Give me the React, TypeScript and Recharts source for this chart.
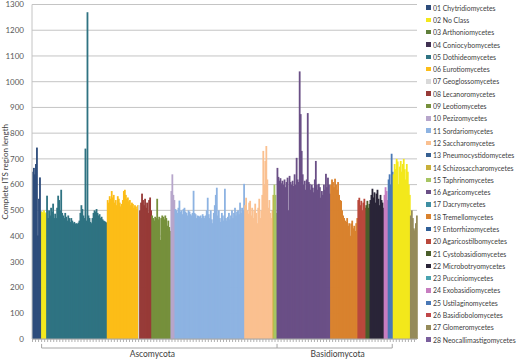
import {
  BarChart,
  Bar,
  Cell,
  XAxis,
  YAxis,
  CartesianGrid,
  ReferenceLine,
} from 'recharts';

const classNames = [
  '01 Chytridiomycetes',
  '02 No Class',
  '03 Arthoniomycetes',
  '04 Coniocybomycetes',
  '05 Dothideomycetes',
  '06 Eurotiomycetes',
  '07 Geoglossomycetes',
  '08 Lecanoromycetes',
  '09 Leotiomycetes',
  '10 Pezizomycetes',
  '11 Sordariomycetes',
  '12 Saccharomycetes',
  '13 Pneumocystidomycetes',
  '14 Schizosaccharomycetes',
  '15 Taphrinomycetes',
  '16 Agaricomycetes',
  '17 Dacrymycetes',
  '18 Tremellomycetes',
  '19 Entorrhizomycetes',
  '20 Agaricostilbomycetes',
  '21 Cystobasidiomycetes',
  '22 Microbotryomycetes',
  '23 Pucciniomycetes',
  '24 Exobasidiomycetes',
  '25 Ustilaginomycetes',
  '26 Basidiobolomycetes',
  '27 Glomeromycetes',
  '28 Neocallimastigomycetes',
];

const classColors = [
  '#2d4c7b', '#f3e81c', '#5f7f3a', '#403152', '#2f7382', '#fcbd18', '#d9d9d9',
  '#973a37', '#76903c', '#b7a6cb', '#8db3e2', '#fac090', '#376092', '#c8b03a',
  '#a7c563', '#6a4f86', '#3f8fa3', '#d9822e', '#2f5f97', '#b9483c', '#4a5e2a',
  '#2a2538', '#4aa3b0', '#c77dc0', '#4a78b5', '#c0474a', '#958b5a', '#7a5f9d',
];

// sequence lengths, read left to right across the chart
const chytridiomycetes = [650, 665, 640, 680, 744, 402, 545, 628, 495];
const noClassLeft = [495, 490, 500, 488, 492];
const dothideomycetes = [
  557, 470, 500, 480, 510, 495, 526, 470, 487, 470, 510, 557, 540, 500, 580,
  490, 480, 470, 490, 475, 460, 480, 470, 455, 470, 460, 450, 455, 448, 450,
  447, 452, 460, 490, 520, 505, 480, 470, 740, 460, 1270, 480, 470, 455, 450,
  470, 490, 500, 495, 505, 490, 480, 485, 470, 475, 465, 460, 458, 455, 452,
];
const eurotiomycetes = [
  540, 530, 555, 545, 575, 550, 560, 530, 540, 520, 555, 545, 530, 515, 525,
  540, 575, 580, 560, 545, 550, 535, 540, 520, 530, 525, 510, 520, 515, 505, 520,
];
const geoglossomycetes = [520];
const lecanoromycetes = [500, 530, 565, 540, 520, 545, 510, 530, 490, 540, 550, 500];
const leotiomycetes = [
  480, 470, 460, 475, 470, 545, 465, 475, 385, 470, 480, 475, 465, 480, 470,
  440, 460, 435, 420,
];
const pezizomycetes = [575, 640, 560, 540];
const sordariomycetes = [
  505, 500, 490, 510, 538, 495, 500, 485, 505, 510, 495, 490, 480, 500, 495,
  485, 480, 490, 576, 490, 485, 470, 480, 478, 475, 480, 470, 485, 478, 470,
  480, 500, 549, 485, 470, 500, 465, 450, 490, 520, 560, 588, 480, 500, 470,
  455, 490, 480, 460, 584, 470, 460, 475, 490, 465, 480, 500, 470, 490, 510,
  480, 495, 500, 485, 530, 490, 510, 500, 603,
];
const saccharomycetes = [
  520, 549, 500, 487, 530, 537, 480, 510, 470, 500, 526, 490, 450, 510, 545,
  470, 500, 560, 731, 600, 692, 750, 620, 510, 540, 490, 470, 500,
];
const schizosaccharomycetes = [560];
const taphrinomycetes = [600, 560, 490];
const agaricomycetes = [
  665, 630, 615, 625, 605, 615, 600, 620, 590, 610, 627, 500, 634, 610, 600,
  615, 595, 640, 600, 704, 620, 610, 1040, 874, 731, 640, 600, 615, 580, 620,
  878, 610, 603, 580, 600, 588, 570, 620, 692, 600, 580, 603, 590, 549, 575,
  560, 600, 580, 642, 590, 627, 600, 565,
];
const tremellomycetes = [
  600, 620, 610, 590, 623, 600, 580, 610, 560, 540, 537, 500, 480, 470, 460,
  455, 470, 440, 450, 400, 449, 460, 430, 440, 420, 450, 470,
];
const agaricostilbomycetes = [540, 549, 520, 537, 500, 530, 545, 510];
const cystobasidiomycetes = [520, 537, 510, 525];
const microbotryomycetes = [540, 560, 584, 550, 570, 530, 565, 580, 545, 520, 560, 540, 530, 510];
const exobasidiomycetes = [560, 590, 575, 540];
const ustilaginomycetes = [620, 640, 600, 720, 650];
const noClassRight = [640, 680, 660, 700, 690, 600, 670, 692, 650, 680, 700, 660, 620, 680, 650, 600, 560];
const glomeromycetes = [480, 500, 470, 430, 422, 450, 480];

// [legend class index, values]
const groups: [number, number[]][] = [
  [0, chytridiomycetes],
  [1, noClassLeft],
  [4, dothideomycetes],
  [5, eurotiomycetes],
  [6, geoglossomycetes],
  [7, lecanoromycetes],
  [8, leotiomycetes],
  [9, pezizomycetes],
  [10, sordariomycetes],
  [11, saccharomycetes],
  [13, schizosaccharomycetes],
  [14, taphrinomycetes],
  [15, agaricomycetes],
  [17, tremellomycetes],
  [19, agaricostilbomycetes],
  [20, cystobasidiomycetes],
  [21, microbotryomycetes],
  [23, exobasidiomycetes],
  [24, ustilaginomycetes],
  [1, noClassRight],
  [26, glomeromycetes],
];

const yTicks = [0, 100, 200, 300, 400, 500, 600, 700, 800, 900, 1000, 1100, 1200, 1300];

const data = groups
  .flatMap(([cls, values]) => values.map((len) => ({ cls, len })))
  .map((d, i) => ({ ...d, id: i }));

// first index of a group in the flat data
const startOf = (g: number) =>
  groups.slice(0, g).reduce((n, [, v]) => n + v.length, 0);

const ascoStart = startOf(1);
const basidioStart = startOf(12);
const basidioEnd = startOf(19) - 1;

const lineY = -35;
const tipY = -19;
const bracketColor = '#a6a6a6';

// bars are ~1px wide; widen each a little so neighbours touch without seams
function SolidBar(props: any) {
  const { x, y, width, height, fill } = props;
  if (!height || height <= 0) return null;
  return <rect x={x} y={y} width={width + 0.8} height={height} fill={fill} />;
}

function PhylumLegend() {
  return (
    <div
      style={{
        position: 'absolute',
        left: 426,
        top: 1.5,
        fontFamily: 'Lato, sans-serif',
        fontSize: 8,
        color: '#404040',
      }}
    >
      {classNames.map((name, i) => (
        <div
          key={name}
          style={{ height: 12.3, display: 'flex', alignItems: 'center', whiteSpace: 'nowrap' }}
        >
          <span
            style={{
              width: 4.5,
              height: 4.5,
              background: classColors[i],
              marginRight: 2.5,
              display: 'inline-block',
              flexShrink: 0,
            }}
          />
          <span style={{ display: 'inline-block', transform: 'scaleX(0.86)', transformOrigin: 'left center' }}>
            {name}
          </span>
        </div>
      ))}
    </div>
  );
}

export default function App() {
  return (
    <div
      style={{
        position: 'absolute',
        left: 0,
        top: 0,
        width: 520,
        height: 363,
        background: '#fff',
        fontFamily: 'Lato, sans-serif',
      }}
    >
      <BarChart
        width={520}
        height={363}
        data={data}
        margin={{ top: 4.5, right: 103, bottom: 0, left: 0 }}
        barCategoryGap={0}
        barGap={0}
      >
        <CartesianGrid vertical={false} stroke="#c4c4c4" />
        <XAxis
          dataKey="id"
          height={24}
          interval={2}
          tickSize={3}
          tickFormatter={() => ''}
          axisLine={{ stroke: '#a6a6a6' }}
          tickLine={{ stroke: '#b0b0b0' }}
        />
        <YAxis
          width={32}
          domain={[0, 1300]}
          ticks={yTicks}
          interval={0}
          tickLine={false}
          axisLine={{ stroke: '#c4c4c4' }}
          tick={{ fontSize: 8, fill: '#595959' }}
          label={{
            value: 'Complete ITS region length',
            angle: -90,
            position: 'insideLeft',
            offset: 5,
            style: { textAnchor: 'middle', fontSize: 8, fill: '#404040' },
          }}
        />
        <Bar dataKey="len" shape={SolidBar} isAnimationActive={false}>
          {data.map((d) => (
            <Cell key={d.id} fill={classColors[d.cls]} />
          ))}
        </Bar>

        {/* phylum brackets below the axis */}
        <ReferenceLine
          ifOverflow="visible"
          stroke={bracketColor}
          segment={[{ x: ascoStart, y: lineY }, { x: basidioStart, y: lineY }]}
          label={{ value: 'Ascomycota', position: 'bottom', offset: 3, fontSize: 8.5, fill: '#404040', dx: -7 }}
        />
        <ReferenceLine
          ifOverflow="visible"
          stroke={bracketColor}
          segment={[{ x: ascoStart, y: lineY }, { x: ascoStart, y: tipY }]}
        />
        <ReferenceLine
          ifOverflow="visible"
          stroke={bracketColor}
          segment={[{ x: basidioStart, y: lineY }, { x: basidioStart, y: tipY }]}
        />
        <ReferenceLine
          ifOverflow="visible"
          stroke={bracketColor}
          segment={[{ x: basidioStart, y: lineY }, { x: basidioEnd, y: lineY }]}
          label={{ value: 'Basidiomycota', position: 'bottom', offset: 3, fontSize: 8.5, fill: '#404040', dx: 3 }}
        />
        <ReferenceLine
          ifOverflow="visible"
          stroke={bracketColor}
          segment={[{ x: basidioEnd, y: lineY }, { x: basidioEnd, y: tipY }]}
        />
      </BarChart>
      <PhylumLegend />
    </div>
  );
}
